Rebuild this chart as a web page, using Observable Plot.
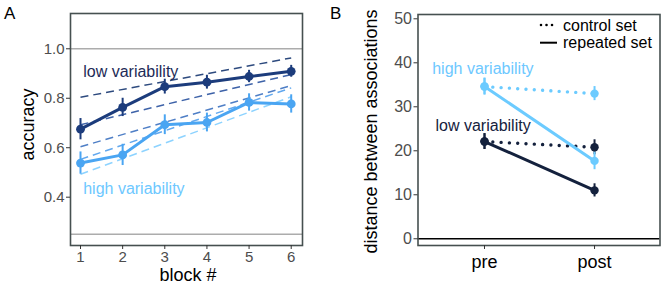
<!DOCTYPE html>
<html><head><meta charset="utf-8">
<script src="https://cdn.jsdelivr.net/npm/d3@7"></script>
<script src="https://cdn.jsdelivr.net/npm/@observablehq/plot@0.6"></script>
<style>
body{margin:0;background:#fff;font-family:"Liberation Sans",Arial,sans-serif;}
#wrap{position:relative;width:665px;height:285px;overflow:hidden;background:#fff}
.panel{position:absolute;top:0}
.letter{position:absolute;font-size:17px;color:#000;line-height:1}
#legend{position:absolute;left:535px;top:14px;overflow:visible}
</style></head><body>
<div id="wrap">
  <div id="pa" class="panel" style="left:0px"></div>
  <div id="pb" class="panel" style="left:335px"></div>
  <div class="letter" style="left:4px;top:5px">A</div>
  <div class="letter" style="left:330px;top:5px">B</div>
  <svg id="legend" width="125" height="40"></svg>
</div>
<script>
// ---------- Panel A data ----------
const blocks = [1, 2, 3, 4, 5, 6];
const lowAcc  = [0.675, 0.763, 0.847, 0.865, 0.888, 0.909];
const lowErr  = [0.043, 0.037, 0.030, 0.028, 0.025, 0.024];
const highAcc = [0.538, 0.571, 0.693, 0.702, 0.783, 0.777];
const highErr = [0.045, 0.043, 0.040, 0.038, 0.035, 0.037];
const fitStart = [0.804, 0.693, 0.604, 0.553, 0.493];
const fitEnd   = [0.963, 0.896, 0.851, 0.842, 0.806];
const fitColors = ["#2d4a7e", "#3d62a8", "#4f7fc6", "#62a8ee", "#8dd3ff"];
const refLinesA = [1.0, 0.25];
const yTicksA = [0.4, 0.6, 0.8, 1.0];
const groupLabels = ["low variability", "high variability"];

// ---------- Panel B data ----------
const phases = ["pre", "post"];
const highControl = [34.6, 33.0], highControlErr = [1.9, 1.6];
const highRepeated = [34.6, 17.7], highRepeatedErr = [1.9, 2.0];
const lowControl = [22.1, 20.8], lowControlErr = [1.8, 1.7];
const lowRepeated = [22.1, 11.0], lowRepeatedErr = [1.8, 1.5];
const yTicksB = [0, 10, 20, 30, 40, 50];
const legendLabels = ["control set", "repeated set"];

const DARK = "#1c3c7c", LIGHT = "#4aa5f2";
const NAVY = "#14213d", SKY = "#6ccbff";
const FRAME = "#465050", TICKTXT = "#4d4d4d";
const font = "'Liberation Sans', Arial, sans-serif";

const rowsA = (vals, errs) => blocks.map((b, i) => ({x: b, y: vals[i], e: errs[i]}));
const lowRows = rowsA(lowAcc, lowErr), highRows = rowsA(highAcc, highErr);
const fits = fitStart.map((s, i) => ({y1: s, y2: fitEnd[i], c: fitColors[i]}));

const A = Plot.plot({
  width: 330, height: 285,
  marginLeft: 70, marginRight: 28, marginTop: 13, marginBottom: 40,
  x: {domain: [0.7627, 6.268]},
  y: {domain: [0.2047, 1.1427]},
  style: {fontFamily: font, fontSize: "15px", background: "transparent", overflow: "visible"},
  marks: [
    Plot.ruleY(refLinesA, {y: d => d, stroke: "#acacac", strokeWidth: 1.4}),
    Plot.link(fits, {x1: () => blocks[0], x2: () => blocks[blocks.length - 1], y1: "y1", y2: "y2",
      stroke: "c", strokeWidth: 1.5, strokeDasharray: "8,5"}),
    Plot.line(highRows, {x: "x", y: "y", stroke: LIGHT, strokeWidth: 3}),
    Plot.ruleX(highRows, {x: "x", y1: d => d.y - d.e, y2: d => d.y + d.e, stroke: LIGHT, strokeWidth: 2}),
    Plot.dot(highRows, {x: "x", y: "y", r: 4.4, fill: LIGHT}),
    Plot.line(lowRows, {x: "x", y: "y", stroke: DARK, strokeWidth: 3}),
    Plot.ruleX(lowRows, {x: "x", y1: d => d.y - d.e, y2: d => d.y + d.e, stroke: DARK, strokeWidth: 2}),
    Plot.dot(lowRows, {x: "x", y: "y", r: 4.4, fill: DARK}),
    Plot.text([groupLabels[0]], {text: d => d, frameAnchor: "top-left", dx: 12.7, dy: 58.7,
      textAnchor: "start", lineAnchor: "middle", fontSize: 16, fill: "#1d2b57"}),
    Plot.text([groupLabels[1]], {text: d => d, frameAnchor: "top-left", dx: 12.7, dy: 175.3,
      textAnchor: "start", lineAnchor: "middle", fontSize: 16, fill: "#6dc8ff"}),
    Plot.frame({stroke: FRAME, strokeWidth: 1.6}),
    Plot.axisY({ticks: yTicksA, tickFormat: d3.format(".1f"), tickSize: 4, tickPadding: 2,
      fontSize: 15, fill: TICKTXT, stroke: "#333", label: null}),
    Plot.axisX({ticks: blocks, tickFormat: d => String(d), tickSize: 4, tickPadding: 2,
      fontSize: 15, fill: TICKTXT, stroke: "#333", label: null}),
    Plot.text(["accuracy"], {text: d => d, frameAnchor: "left", dx: -42, dy: -5, rotate: -90,
      textAnchor: "middle", lineAnchor: "middle", fontSize: 18, fill: "#000"}),
    Plot.text(["block #"], {text: d => d, frameAnchor: "bottom", dx: 1.5, dy: 29.5,
      textAnchor: "middle", lineAnchor: "middle", fontSize: 18, fill: "#000"})
  ]
});
document.getElementById("pa").appendChild(A);

const rowsB = (vals, errs) => phases.map((p, i) => ({x: i + 1, y: vals[i], e: errs[i]}));
const hc = rowsB(highControl, highControlErr), hr = rowsB(highRepeated, highRepeatedErr);
const lc = rowsB(lowControl, lowControlErr), lr = rowsB(lowRepeated, lowRepeatedErr);
const dotted = {strokeWidth: 3.4, strokeDasharray: "0.01,8.3", strokeLinecap: "round"};
const errMarks = (rows, c) => [
  Plot.ruleX(rows, {x: "x", y1: d => d.y - d.e, y2: d => d.y + d.e, stroke: c, strokeWidth: 2}),
  Plot.dot(rows, {x: "x", y: "y", r: 4.2, fill: c})
];

const B = Plot.plot({
  width: 330, height: 285,
  marginLeft: 82.5, marginRight: 5.5, marginTop: 14, marginBottom: 40,
  x: {domain: [0.3955, 2.595]},
  y: {domain: [-1.53, 50.98]},
  style: {fontFamily: font, fontSize: "16px", background: "transparent", overflow: "visible"},
  marks: [
    Plot.ruleY([0], {stroke: "#000", strokeWidth: 1.5}),
    Plot.line(lc, {x: "x", y: "y", stroke: NAVY, ...dotted}),
    Plot.line(lr, {x: "x", y: "y", stroke: NAVY, strokeWidth: 3}),
    ...errMarks(lc, NAVY), ...errMarks(lr, NAVY),
    Plot.line(hc, {x: "x", y: "y", stroke: SKY, ...dotted}),
    Plot.line(hr, {x: "x", y: "y", stroke: SKY, strokeWidth: 3}),
    ...errMarks(hc, SKY), ...errMarks(hr, SKY),
    Plot.text([groupLabels[1]], {text: d => d, frameAnchor: "top-left", dx: 14.2, dy: 54.3,
      textAnchor: "start", lineAnchor: "middle", fontSize: 16, fill: "#6dc8ff"}),
    Plot.text([groupLabels[0]], {text: d => d, frameAnchor: "top-left", dx: 17.5, dy: 111,
      textAnchor: "start", lineAnchor: "middle", fontSize: 16, fill: NAVY}),
    Plot.frame({stroke: FRAME, strokeWidth: 1.6}),
    Plot.axisY({ticks: yTicksB, tickSize: 4, tickPadding: 2, fontSize: 16, fill: TICKTXT,
      stroke: "#333", label: null}),
    Plot.axisX({ticks: [1, 2], tickFormat: d => phases[d - 1], tickSize: 4, tickPadding: 6,
      fontSize: 18, fill: "#000", stroke: "#333", label: null}),
    Plot.text(["distance between associations"], {text: d => d, frameAnchor: "left", dx: -47,
      dy: 1.5, rotate: -90, textAnchor: "middle", lineAnchor: "middle", fontSize: 18, fill: "#000"})
  ]
});
document.getElementById("pb").appendChild(B);

// legend
const lg = d3.select("#legend");
legendLabels.forEach((lab, i) => {
  const y = 11 + i * 17.7;
  lg.append("line").attr("x1", i === 0 ? 6 : 5).attr("x2", 22).attr("y1", y).attr("y2", y)
    .attr("stroke", "#000").attr("stroke-width", i === 0 ? 2.6 : 2)
    .attr("stroke-dasharray", i === 0 ? "0.01,5.5" : null)
    .attr("stroke-linecap", i === 0 ? "round" : "butt");
  lg.append("text").attr("x", 28).attr("y", y).attr("dy", "0.35em")
    .attr("font-size", 16).attr("font-family", font).attr("fill", "#000").text(lab);
});
</script>
</body></html>
